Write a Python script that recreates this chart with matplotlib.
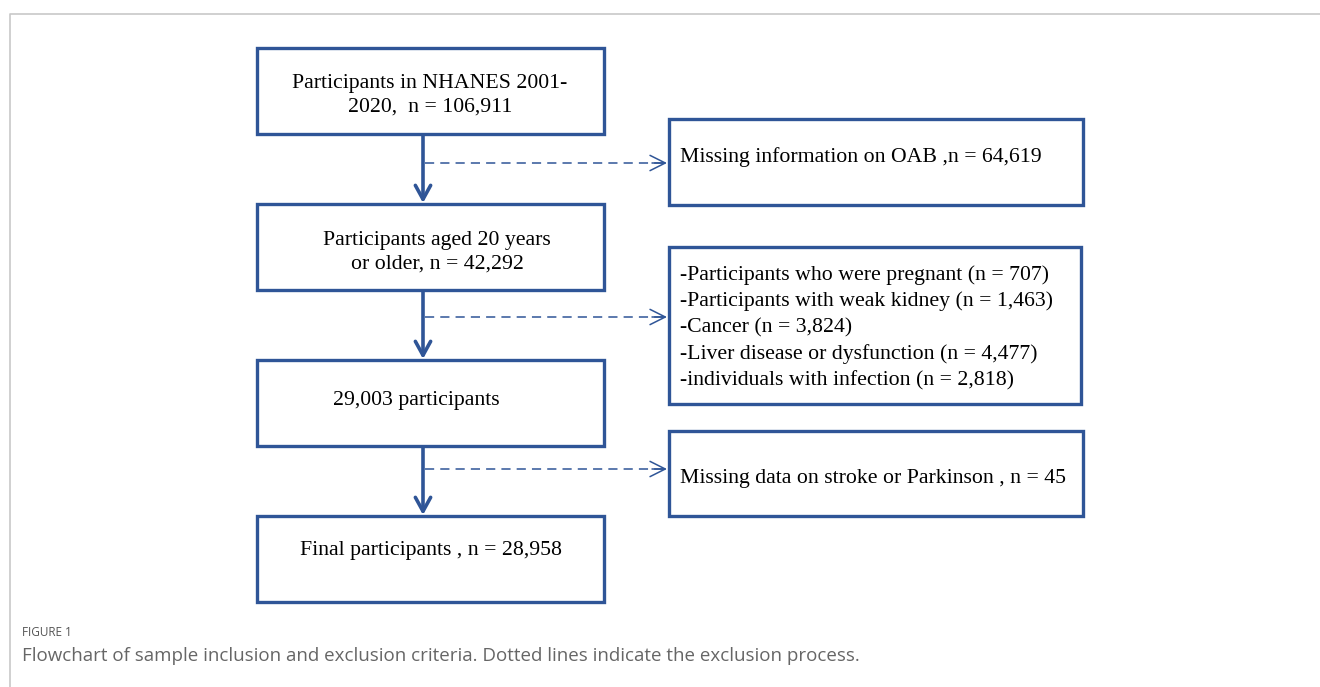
import matplotlib.pyplot as plt
from matplotlib.patches import Rectangle

# flowchart text
main_steps = [
    'Participants in NHANES 2001-\n2020,  n = 106,911',
    'Participants aged 20 years\nor older, n = 42,292',
    '29,003 participants',
    'Final participants , n = 28,958',
]
exclusions = [
    'Missing information on OAB ,n = 64,619',
    '-Participants who were pregnant (n = 707)\n'
    '-Participants with weak kidney (n = 1,463)\n'
    '-Cancer (n = 3,824)\n'
    '-Liver disease or dysfunction (n = 4,477)\n'
    '-individuals with infection (n = 2,818)',
    'Missing data on stroke or Parkinson , n = 45',
]
caption_title = 'FIGURE 1'
caption_text = ('Flowchart of sample inclusion and exclusion criteria. '
                'Dotted lines indicate the exclusion process.')

blue = '#2F5597'
serif = 'Liberation Serif'
fsize = 15.7

fig = plt.figure(figsize=(13.2, 6.87), dpi=100)
ax = fig.add_axes([0, 0, 1, 1])
ax.set_xlim(0, 1320)
ax.set_ylim(687, 0)
ax.axis('off')

# light frame around the figure
ax.plot([9.5, 9.5, 1320], [687, 13.5, 13.5], color='#c8c8c8', lw=1.2)

# left column boxes (x0, y0, x1, y1) and text anchor
main_boxes = [(257, 48, 604, 134), (257, 204, 604, 290),
              (257, 360, 604, 446), (257, 516, 604, 602)]
main_text_pos = [(430, 95, 'center'), (437, 252, 'center'),
                 (333, 401, 'left'), (300, 550, 'left')]
for (x0, y0, x1, y1), (tx, ty, ha), label in zip(main_boxes, main_text_pos, main_steps):
    ax.add_patch(Rectangle((x0, y0), x1 - x0, y1 - y0, fill=False,
                           edgecolor=blue, lw=2.4))
    ax.text(tx, ty, label, ha=ha, va='center', family=serif, fontsize=fsize,
            linespacing=1.32, color='black')

# right column boxes
excl_boxes = [(669, 119, 1083, 205), (669, 247, 1081, 404), (669, 431, 1083, 516)]
excl_text_y = [157, 327.5, 478]
for (x0, y0, x1, y1), ty, label in zip(excl_boxes, excl_text_y, exclusions):
    ax.add_patch(Rectangle((x0, y0), x1 - x0, y1 - y0, fill=False,
                           edgecolor=blue, lw=2.4))
    ax.text(680, ty, label, ha='left', va='center', family=serif, fontsize=fsize,
            linespacing=1.47, color='black')

# solid arrows between main boxes
arrow_x = 423
for (_, _, _, y_bot), (_, y_top, _, _) in zip(main_boxes[:-1], main_boxes[1:]):
    ax.annotate('', xy=(arrow_x, y_top - 1), xytext=(arrow_x, y_bot + 1),
                arrowprops=dict(arrowstyle='->,head_length=1.0,head_width=0.55',
                                color=blue, lw=2.6, shrinkA=0, shrinkB=0))

# dashed arrows to exclusion boxes (dashed shaft, solid open head)
dash_y = [163, 317, 469]
for y in dash_y:
    ax.plot([425, 664], [y, y], color=blue, lw=1.1, linestyle=(0, (6, 4)))
    ax.annotate('', xy=(667, y), xytext=(652, y),
                arrowprops=dict(arrowstyle='->,head_length=1.1,head_width=0.55',
                                color=blue, lw=1.1, shrinkA=0, shrinkB=0))

# caption
ax.text(22, 633, caption_title, ha='left', va='center', family='Open Sans',
        fontsize=8.5, color='#555555')
ax.text(22, 656, caption_text, ha='left', va='center', family='Open Sans',
        fontsize=13.5, color='#666666')

fig.savefig('out.png', dpi=100)
